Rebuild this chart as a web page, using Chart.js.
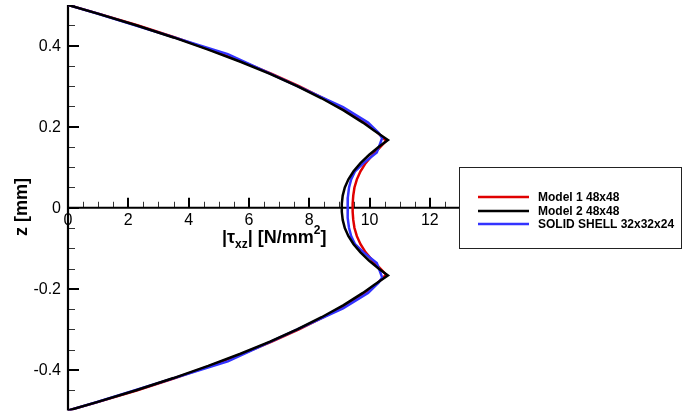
<!DOCTYPE html>
<html lang="en">
<head>
    <meta charset="UTF-8">
    <title>Shear stress through thickness</title>
    <script src="https://cdn.jsdelivr.net/npm/chart.js"></script>
    <style>
        body {
            margin: 0;
            padding: 0;
            background: #ffffff;
        }
        canvas {
            display: block;
        }
    </style>
</head>
<body>
    <canvas id="chartShear" width="682" height="414"></canvas>

    <script>
        // Series: |tau_xz| values against z through the thickness
        var model1Z = [0.5, 0.48, 0.45, 0.42, 0.39, 0.36, 0.33, 0.30, 0.27, 0.24, 0.21, 0.19, 0.165, 0.15, 0.13, 0.11, 0.09, 0.07, 0.05, 0.03, 0.01,
            -0.01, -0.03, -0.05, -0.07, -0.09, -0.11, -0.13, -0.15, -0.165, -0.19, -0.21, -0.24, -0.27, -0.30, -0.33, -0.36, -0.39, -0.42, -0.45, -0.48, -0.5];
        var model1Tau = [0, 0.95, 2.3, 3.55, 4.7, 5.78, 6.76, 7.66, 8.47, 9.2, 9.83, 10.2, 10.55, 10.36, 10.1, 9.87, 9.7, 9.58, 9.5, 9.46, 9.44,
            9.44, 9.46, 9.5, 9.58, 9.7, 9.87, 10.1, 10.36, 10.55, 10.2, 9.83, 9.2, 8.47, 7.66, 6.76, 5.78, 4.7, 3.55, 2.3, 0.95, 0];

        var model2Z = [0.5, 0.48, 0.45, 0.42, 0.39, 0.36, 0.33, 0.30, 0.27, 0.24, 0.21, 0.19, 0.167, 0.15, 0.13, 0.11, 0.09, 0.07, 0.05, 0.03, 0.01,
            -0.01, -0.03, -0.05, -0.07, -0.09, -0.11, -0.13, -0.15, -0.167, -0.19, -0.21, -0.24, -0.27, -0.30, -0.33, -0.36, -0.39, -0.42, -0.45, -0.48, -0.5];
        var model2Tau = [0, 0.93, 2.26, 3.5, 4.65, 5.72, 6.7, 7.6, 8.41, 9.14, 9.78, 10.16, 10.61, 10.3, 9.98, 9.7, 9.47, 9.3, 9.18, 9.11, 9.08,
            9.08, 9.11, 9.18, 9.3, 9.47, 9.7, 9.98, 10.3, 10.61, 10.16, 9.78, 9.14, 8.41, 7.6, 6.7, 5.72, 4.65, 3.5, 2.26, 0.93, 0];

        var shellZ = [0.5, 0.479, 0.379, 0.248, 0.21, 0.185, 0.172, 0.136, 0.11, 0.09, 0.07, 0.05, 0.025, 0,
            -0.025, -0.05, -0.07, -0.09, -0.11, -0.136, -0.172, -0.185, -0.21, -0.248, -0.379, -0.479, -0.5];
        var shellTau = [0, 0.97, 5.3, 9.12, 9.95, 10.3, 10.42, 10.24, 9.8, 9.52, 9.39, 9.32, 9.28, 9.27,
            9.28, 9.32, 9.39, 9.52, 9.8, 10.24, 10.42, 10.3, 9.95, 9.12, 5.3, 0.97, 0];

        var seriesLabels = ['Model 1 48x48', 'Model 2 48x48', 'SOLID SHELL 32x32x24'];
        var seriesColors = ['#e00000', '#000000', '#3333ff'];

        var xTicks = [0, 2, 4, 6, 8, 10, 12];
        var yTicks = [0.4, 0.2, 0, -0.2, -0.4];

        function toPoints(tau, z) {
            return tau.map(function(t, i) { return { x: t, y: z[i] }; });
        }

        var FONT = '"Liberation Sans", Arial, Helvetica, sans-serif';

        // axes crossing at z = 0, drawn with the chart's own scales
        var axesPlugin = {
            id: 'centerAxes',
            beforeDatasetsDraw: function(chart) {
                var ctx = chart.ctx;
                var xs = chart.scales.x, ys = chart.scales.y;
                var x0 = xs.getPixelForValue(0);
                var y0 = ys.getPixelForValue(0);
                var xEnd = xs.getPixelForValue(13);
                ctx.save();
                ctx.strokeStyle = '#000';
                ctx.lineCap = 'butt';

                // minor ticks
                ctx.lineWidth = 1;
                ctx.strokeStyle = '#333';
                for (var v = -0.45; v < 0.5; v += 0.05) {
                    var py = Math.round(ys.getPixelForValue(v)) + 0.5;
                    ctx.beginPath(); ctx.moveTo(x0, py); ctx.lineTo(x0 + 7, py); ctx.stroke();
                }
                for (var t = 0.5; t < 13; t += 0.5) {
                    var px = Math.round(xs.getPixelForValue(t)) + 0.5;
                    ctx.beginPath(); ctx.moveTo(px, y0); ctx.lineTo(px, y0 - 6); ctx.stroke();
                }

                // major ticks
                ctx.strokeStyle = '#000';
                ctx.lineWidth = 2;
                yTicks.forEach(function(v) {
                    var py = Math.round(ys.getPixelForValue(v));
                    ctx.beginPath(); ctx.moveTo(x0, py); ctx.lineTo(x0 + 11, py); ctx.stroke();
                });
                xTicks.forEach(function(v) {
                    var px = Math.round(xs.getPixelForValue(v));
                    ctx.beginPath(); ctx.moveTo(px, y0); ctx.lineTo(px, y0 - 10); ctx.stroke();
                });

                // axis lines
                ctx.lineWidth = 2.2;
                ctx.beginPath();
                ctx.moveTo(x0, ys.getPixelForValue(0.5));
                ctx.lineTo(x0, ys.getPixelForValue(-0.5));
                ctx.stroke();
                ctx.beginPath();
                ctx.moveTo(x0, y0);
                ctx.lineTo(xEnd, y0);
                ctx.stroke();

                // tick labels
                ctx.fillStyle = '#000';
                ctx.font = '16px ' + FONT;
                ctx.textAlign = 'right';
                ctx.textBaseline = 'middle';
                yTicks.forEach(function(v) {
                    ctx.fillText(v === 0 ? '0' : String(v), x0 - 7, ys.getPixelForValue(v) + 1);
                });
                ctx.textAlign = 'center';
                ctx.textBaseline = 'top';
                xTicks.forEach(function(v) {
                    ctx.fillText(String(v), xs.getPixelForValue(v), y0 + 5);
                });

                // x title |tau_xz| [N/mm^2]
                var bx = 222, base = 243;
                function part(text, size, dy) {
                    ctx.font = 'bold ' + size + 'px ' + FONT;
                    ctx.textAlign = 'left';
                    ctx.textBaseline = 'alphabetic';
                    ctx.fillText(text, bx, base + dy);
                    bx += ctx.measureText(text).width;
                }
                part('|\u03c4', 18, 0);
                part('xz', 12, 5);
                part('| [N/mm', 18, 0);
                part('2', 12, -9);
                part(']', 18, 0);

                // y title
                ctx.save();
                ctx.translate(22, 207);
                ctx.rotate(-Math.PI / 2);
                ctx.font = 'bold 18px ' + FONT;
                ctx.textAlign = 'center';
                ctx.textBaseline = 'middle';
                ctx.fillText('z [mm]', 0, 0);
                ctx.restore();

                ctx.restore();
            },
            afterDatasetsDraw: function(chart) {
                // legend box on the right
                var ctx = chart.ctx;
                ctx.save();
                ctx.fillStyle = '#fff';
                ctx.fillRect(459, 167, 223, 82);
                ctx.strokeStyle = '#222';
                ctx.lineWidth = 1;
                ctx.strokeRect(459.5, 167.5, 222, 81);
                var rows = [197, 211, 224];
                ctx.font = 'bold 12px ' + FONT;
                ctx.textAlign = 'left';
                ctx.textBaseline = 'middle';
                seriesLabels.forEach(function(label, i) {
                    ctx.strokeStyle = seriesColors[i];
                    ctx.lineWidth = 2.5;
                    ctx.beginPath();
                    ctx.moveTo(478, rows[i]);
                    ctx.lineTo(529, rows[i]);
                    ctx.stroke();
                    ctx.fillStyle = '#000';
                    ctx.fillText(label, 538, rows[i] + 1);
                });
                ctx.restore();
            }
        };

        new Chart(document.getElementById('chartShear'), {
            type: 'scatter',
            data: {
                datasets: [
                    { label: seriesLabels[0], data: toPoints(model1Tau, model1Z), borderColor: seriesColors[0], order: 2 },
                    { label: seriesLabels[1], data: toPoints(model2Tau, model2Z), borderColor: seriesColors[1], order: 0 },
                    { label: seriesLabels[2], data: toPoints(shellTau, shellZ), borderColor: seriesColors[2], order: 1 }
                ]
            },
            options: {
                responsive: false,
                animation: false,
                showLine: true,
                layout: { padding: { left: 68, top: 5, right: 222, bottom: 3.5 } },
                elements: {
                    point: { radius: 0, hoverRadius: 0 },
                    line: { borderWidth: 2.5, tension: 0, fill: false }
                },
                scales: {
                    x: { type: 'linear', min: 0, max: 13, display: false },
                    y: { type: 'linear', min: -0.5, max: 0.5, display: false }
                },
                plugins: {
                    legend: { display: false },
                    tooltip: { enabled: false }
                }
            },
            plugins: [axesPlugin]
        });
    </script>
</body>
</html>
